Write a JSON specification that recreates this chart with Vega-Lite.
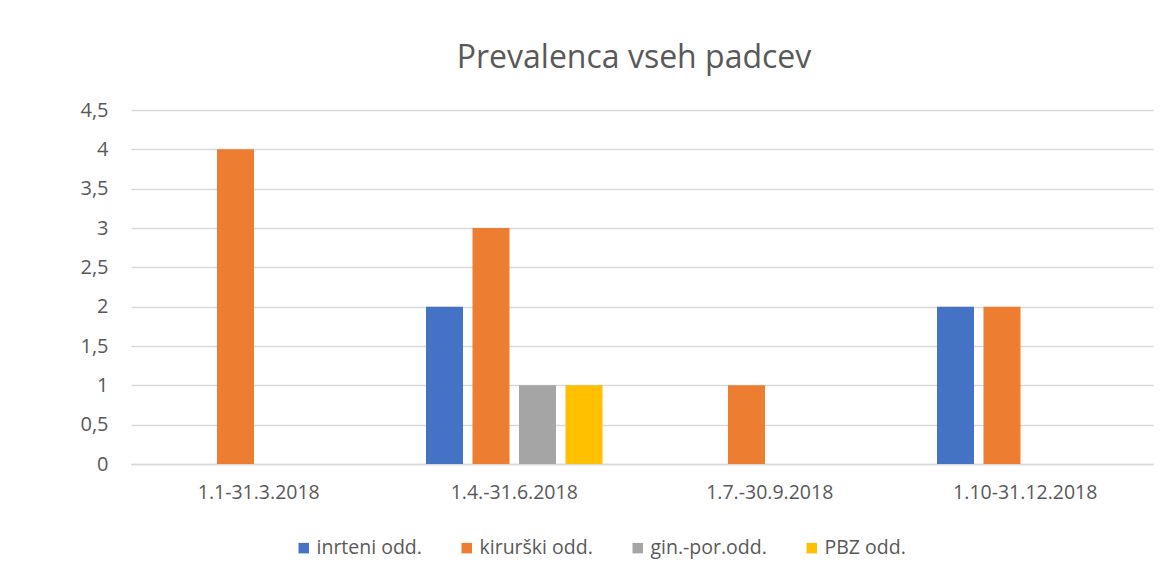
{
  "$schema": "https://vega.github.io/schema/vega-lite/v6.json",
  "autosize": {"type": "none"},
  "padding": {"left": 131, "top": 110, "right": 18, "bottom": 116},
  "width": 1022,
  "height": 354,
  "background": "white",
  "title": {
    "text": "Prevalenca vseh padcev",
    "font": "Open Sans",
    "fontSize": 32,
    "fontWeight": "normal",
    "color": "#595959",
    "anchor": "middle",
    "frame": "group",
    "dx": -8,
    "offset": 25
  },
  "data": {
    "values": [
      {"obdobje": "1.1-31.3.2018", "oddelek": "kirurški odd.", "vrednost": 4},
      {"obdobje": "1.4.-31.6.2018", "oddelek": "inrteni odd.", "vrednost": 2},
      {"obdobje": "1.4.-31.6.2018", "oddelek": "kirurški odd.", "vrednost": 3},
      {"obdobje": "1.4.-31.6.2018", "oddelek": "gin.-por.odd.", "vrednost": 1},
      {"obdobje": "1.4.-31.6.2018", "oddelek": "PBZ odd.", "vrednost": 1},
      {"obdobje": "1.7.-30.9.2018", "oddelek": "kirurški odd.", "vrednost": 1},
      {"obdobje": "1.10-31.12.2018", "oddelek": "inrteni odd.", "vrednost": 2},
      {"obdobje": "1.10-31.12.2018", "oddelek": "kirurški odd.", "vrednost": 2}
    ]
  },
  "mark": {"type": "bar"},
  "encoding": {
    "x": {
      "field": "obdobje",
      "type": "nominal",
      "sort": ["1.1-31.3.2018", "1.4.-31.6.2018", "1.7.-30.9.2018", "1.10-31.12.2018"],
      "scale": {"domain": ["1.1-31.3.2018", "1.4.-31.6.2018", "1.7.-30.9.2018", "1.10-31.12.2018"], "paddingInner": 0.272, "paddingOuter": 0.136},
      "axis": {
        "title": null,
        "labelAngle": 0,
        "labelFont": "Open Sans",
        "labelFontSize": 19.5,
        "labelColor": "#595959",
        "labelPadding": 19,
        "ticks": false,
        "domainColor": "#D9D9D9",
        "domainWidth": 1.5,
        "grid": false
      }
    },
    "xOffset": {
      "field": "oddelek",
      "type": "nominal",
      "scale": {"domain": ["inrteni odd.", "kirurški odd.", "gin.-por.odd.", "PBZ odd."], "paddingInner": 0.204, "paddingOuter": 0.102}
    },
    "y": {
      "field": "vrednost",
      "type": "quantitative",
      "scale": {"domain": [0, 4.5], "nice": false},
      "axis": {
        "title": null,
        "values": [0, 0.5, 1, 1.5, 2, 2.5, 3, 3.5, 4, 4.5],
        "labelExpr": "replace(format(datum.value, '~g'), '.', ',')",
        "labelFont": "Open Sans",
        "labelFontSize": 20,
        "labelColor": "#595959",
        "labelPadding": 23,
        "ticks": false,
        "domain": false,
        "grid": true,
        "gridColor": "#D9D9D9",
        "gridWidth": 1.5
      }
    },
    "color": {
      "field": "oddelek",
      "type": "nominal",
      "scale": {
        "domain": ["inrteni odd.", "kirurški odd.", "gin.-por.odd.", "PBZ odd."],
        "range": ["#4472C4", "#ED7D31", "#A5A5A5", "#FFC000"]
      },
      "legend": {
        "title": null,
        "orient": "none",
        "legendX": 163,
        "legendY": 428,
        "direction": "horizontal",
        "columns": 4,
        "symbolType": "square",
        "symbolSize": 110,
        "symbolStrokeWidth": 0,
        "labelFont": "Open Sans",
        "labelFontSize": 19.5,
        "labelColor": "#595959",
        "labelOffset": 3,
        "columnPadding": 35,
        "labelLimit": 300
      }
    }
  },
  "config": {
    "view": {"stroke": null}
  }
}
